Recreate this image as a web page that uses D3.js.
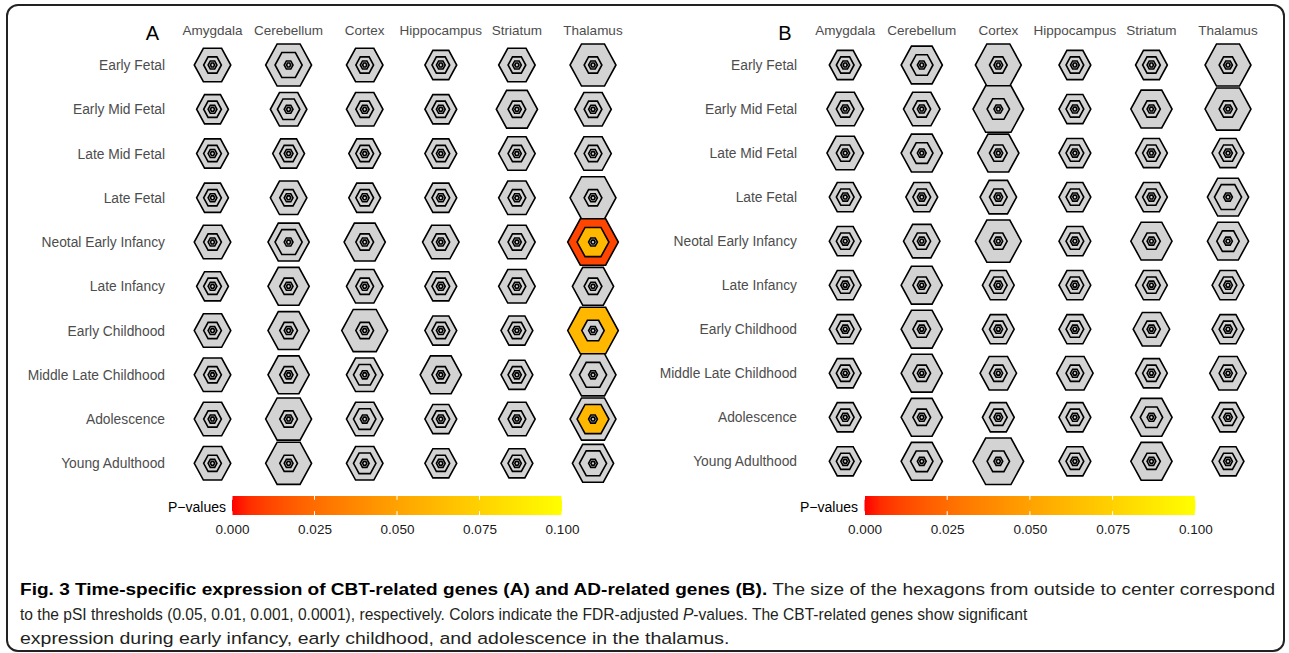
<!DOCTYPE html>
<html><head><meta charset="utf-8">
<script src="https://cdn.jsdelivr.net/npm/d3@7"></script>
<style>body{margin:0;background:#fff}svg{display:block}</style>
</head><body>
<svg id="chart" width="1289" height="653"></svg>
<script>
// ---------------- DATA ----------------
const regions = ["Amygdala","Cerebellum","Cortex","Hippocampus","Striatum","Thalamus"];
const stages = ["Early Fetal","Early Mid Fetal","Late Mid Fetal","Late Fetal","Neotal Early Infancy",
  "Late Infancy","Early Childhood","Middle Late Childhood","Adolescence","Young Adulthood"];
const pTicks = [0.000, 0.025, 0.050, 0.075, 0.100];
const panelLabels = ["A","B"];

// gene-list size level at pSI 0.05 (outer hexagon), rows = stages, cols = regions
const sizeA_05 = [
  [4,6,4,3,4,6],[3,4,4,3,5,4],[3,3,3,3,4,4],[3,4,3,3,4,6],[4,5,5,4,4,7],
  [3,5,4,3,4,5],[4,5,6,3,3,7],[4,5,4,5,3,6],[4,6,4,3,4,6],[4,6,4,3,3,5]];
// gene-list size level at pSI 0.01 (second hexagon)
const sizeA_01 = [
  [0,2,0,0,0,0],[0,1,0,0,0,0],[0,0,0,0,0,0],[0,0,0,0,0,0],[0,2,0,0,0,3],
  [0,0,0,0,0,0],[0,0,0,0,0,1],[0,0,1,0,0,2],[0,0,1,0,0,3],[0,0,1,0,0,2]];
const sizeB_05 = [
  [3,5,6,3,3,6],[4,4,7,3,5,6],[4,5,5,3,3,3],[3,3,4,3,3,5],[3,4,6,3,5,5],
  [3,5,3,3,3,3],[3,5,3,3,4,3],[3,5,4,4,3,4],[3,5,3,3,5,3],[3,5,7,3,5,3]];
const sizeB_01 = [
  [0,1,0,0,0,0],[0,0,1,0,0,0],[0,1,0,0,0,0],[0,0,0,0,0,2],[0,0,0,0,0,1],
  [0,0,0,0,0,0],[0,0,0,0,0,0],[0,0,0,0,0,0],[0,0,0,0,1,0],[0,1,1,0,0,0]];
// FDR-adjusted P-values (null = not significant, drawn grey)
const pA_05 = [
  [null,null,null,null,null,null],[null,null,null,null,null,null],[null,null,null,null,null,null],
  [null,null,null,null,null,null],[null,null,null,null,null,0.011],[null,null,null,null,null,null],
  [null,null,null,null,null,0.061],[null,null,null,null,null,null],[null,null,null,null,null,null],
  [null,null,null,null,null,null]];
const pA_01 = [
  [null,null,null,null,null,null],[null,null,null,null,null,null],[null,null,null,null,null,null],
  [null,null,null,null,null,null],[null,null,null,null,null,0.061],[null,null,null,null,null,null],
  [null,null,null,null,null,null],[null,null,null,null,null,null],[null,null,null,null,null,0.061],
  [null,null,null,null,null,null]];
const pB_05 = stages.map(() => regions.map(() => null));
const pB_01 = stages.map(() => regions.map(() => null));

const captionBold = "Fig. 3 Time-specific expression of CBT-related genes (A) and AD-related genes (B).";
const captionLines = [
  [" The size of the hexagons from outside to center correspond"],
  ["to the pSI thresholds (0.05, 0.01, 0.001, 0.0001), respectively. Colors indicate the FDR-adjusted ", "P", "-values. The CBT-related genes show significant"],
  ["expression during early infancy, early childhood, and adolescence in the thalamus."]
];

// ---------------- DRAW ----------------
const svg = d3.select("#chart");
const FONT = "'Liberation Sans', Arial, Helvetica, sans-serif";
const grey = "#d3d3d3";
const color = d3.scaleSequential(d3.interpolateLab("red", "yellow")).domain([0, 0.1]);
const rScale = d3.scaleLinear().domain([0, 7]).range([8.85, 25.3]);
const innerR = [4.4, 2.1];
const vStretch = 1.06;

function hexPath(r) {
  const pts = d3.range(6).map(i => {
    const a = i * Math.PI / 3;
    return [r * Math.cos(a), r * Math.sin(a) * vStretch];
  });
  return d3.line()(pts) + "Z";
}

svg.append("rect").attr("x", 7).attr("y", 5).attr("width", 1277).attr("height", 646)
  .attr("rx", 11).attr("fill", "none").attr("stroke", "#222").attr("stroke-width", 2);

const panels = [
  {label: panelLabels[0], s05: sizeA_05, s01: sizeA_01, p05: pA_05, p01: pA_01,
   x: [212.5, 593], y: [65, 463.3], rowLabX: 165, letterX: 152.5, leg: [232, 562], legLabX: 226},
  {label: panelLabels[1], s05: sizeB_05, s01: sizeB_01, p05: pB_05, p01: pB_01,
   x: [845.2, 1228], y: [65, 461.3], rowLabX: 797, letterX: 785, leg: [864.5, 1195.3], legLabX: 858}
];

panels.forEach((P, pi) => {
  const g = svg.append("g");
  const x = d3.scalePoint().domain(regions).range(P.x);
  const y = d3.scalePoint().domain(stages).range(P.y);

  g.append("text").attr("x", P.letterX).attr("y", 40).attr("text-anchor", "middle")
    .attr("font-family", FONT).attr("font-size", 20).attr("fill", "#000").text(P.label);

  g.selectAll("text.col").data(regions).join("text").attr("class", "col")
    .attr("x", d => x(d)).attr("y", 35).attr("text-anchor", "middle")
    .attr("font-family", FONT).attr("font-size", 13.5).attr("fill", "#4d4d4d").text(d => d);

  g.selectAll("text.row").data(stages).join("text").attr("class", "row")
    .attr("x", P.rowLabX).attr("y", d => y(d) + 5).attr("text-anchor", "end")
    .attr("font-family", FONT).attr("font-size", 13.8).attr("fill", "#4d4d4d").text(d => d);

  const cells = [];
  stages.forEach((st, i) => regions.forEach((rg, j) => {
    cells.push({st, rg, s05: P.s05[i][j], s01: P.s01[i][j], p05: P.p05[i][j], p01: P.p01[i][j]});
  }));
  const cg = g.selectAll("g.cell").data(cells).join("g").attr("class", "cell")
    .attr("transform", d => `translate(${x(d.rg)},${y(d.st)})`);
  const ringStyle = sel => sel.attr("stroke", "#000").attr("stroke-width", 1.6).attr("stroke-linejoin", "miter");
  cg.append("path").attr("d", d => hexPath(rScale(d.s05)))
    .attr("fill", d => d.p05 == null ? grey : color(d.p05)).call(ringStyle);
  cg.append("path").attr("d", d => hexPath(rScale(d.s01)))
    .attr("fill", d => d.p01 == null ? grey : color(d.p01)).call(ringStyle);
  innerR.forEach(r => cg.append("path").attr("d", hexPath(r)).attr("fill", grey).call(ringStyle));

  // legend
  const ls = d3.scaleLinear().domain([0, 0.1]).range(P.leg);
  const gid = "grad" + pi;
  const grad = svg.append("defs").append("linearGradient").attr("id", gid);
  d3.range(0, 1.0001, 0.05).forEach(t => grad.append("stop")
    .attr("offset", t).attr("stop-color", color(t * 0.1)));
  const top = 496, h = 19;
  g.append("rect").attr("x", P.leg[0]).attr("y", top).attr("width", P.leg[1] - P.leg[0])
    .attr("height", h).attr("fill", `url(#${gid})`);
  pTicks.forEach(t => {
    g.append("line").attr("x1", ls(t)).attr("x2", ls(t)).attr("y1", top).attr("y2", top + h / 5)
      .attr("stroke", "#fff").attr("stroke-width", 1);
    g.append("line").attr("x1", ls(t)).attr("x2", ls(t)).attr("y1", top + h - h / 5).attr("y2", top + h)
      .attr("stroke", "#fff").attr("stroke-width", 1);
  });
  const ax = g.append("g").attr("transform", `translate(0,${top + h})`)
    .call(d3.axisBottom(ls).tickValues(pTicks).tickFormat(d3.format(".3f")).tickSize(0).tickPadding(9));
  ax.select(".domain").remove();
  ax.selectAll("text").attr("font-family", FONT).attr("font-size", 13.5).attr("fill", "#1a1a1a");
  g.append("text").attr("x", P.legLabX).attr("y", top + h / 2 + 6).attr("text-anchor", "end")
    .attr("font-family", FONT).attr("font-size", 14).attr("fill", "#000").text("P\u2212values");
});

// caption: regular font condensed horizontally to the reference line widths
const lineEnds = [1276, 1028, 730];
const baselines = [595, 619.5, 644];
captionLines.forEach((parts, i) => {
  const t = svg.append("text").attr("x", 0).attr("y", 0)
    .attr("font-family", FONT).attr("font-size", 17).attr("fill", "#231f20");
  if (i === 0) t.append("tspan").attr("font-weight", "bold").attr("fill", "#000").text(captionBold);
  parts.forEach((p, k) => {
    const ts = t.append("tspan").text(p);
    if (i === 1 && k === 1) ts.attr("font-style", "italic");
  });
  const w = t.node().getComputedTextLength();
  const sx = (lineEnds[i] - 20) / w;
  t.attr("transform", `translate(20,${baselines[i]}) scale(${sx},1)`);
});
</script>
</body></html>
